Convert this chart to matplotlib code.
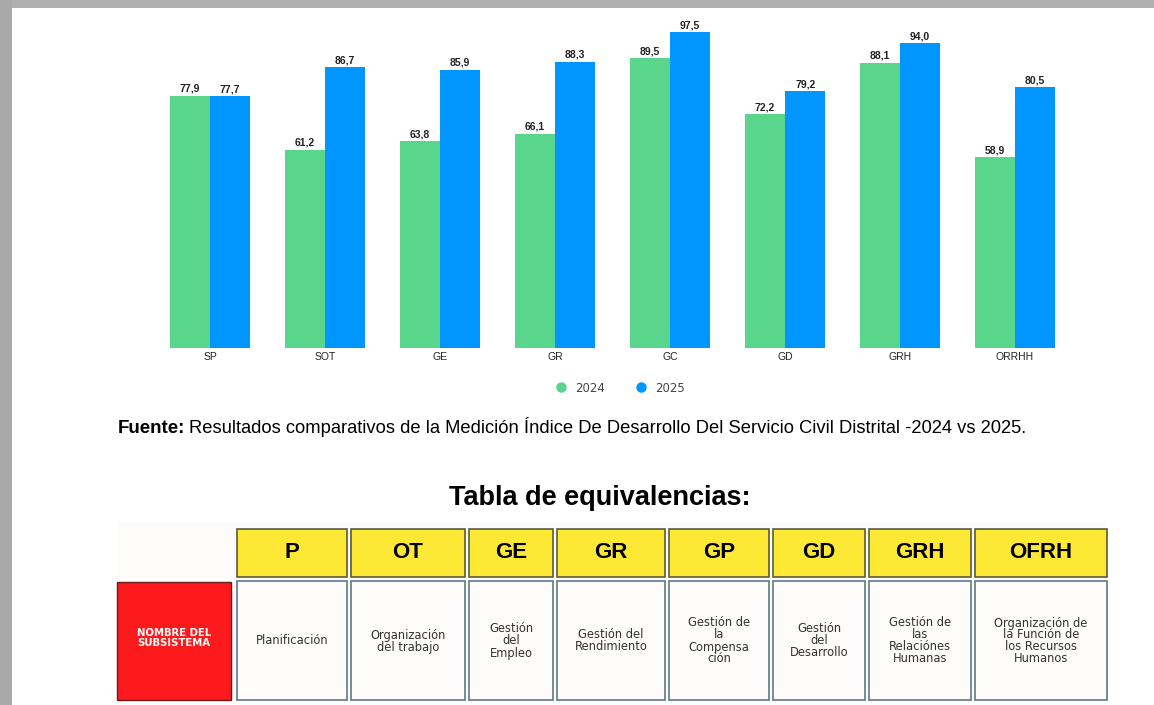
import numpy as np
import matplotlib.pyplot as plt
from matplotlib.patches import Rectangle
from matplotlib.lines import Line2D

plt.rcParams['font.family'] = ['Liberation Sans', 'DejaVu Sans']

categories = ['SP', 'SOT', 'GE', 'GR', 'GC', 'GD', 'GRH', 'ORRHH']
values_2024 = [77.9, 61.2, 63.8, 66.1, 89.5, 72.2, 88.1, 58.9]
values_2025 = [77.7, 86.7, 85.9, 88.3, 97.5, 79.2, 94.0, 80.5]

codes = ['P', 'OT', 'GE', 'GR', 'GP', 'GD', 'GRH', 'OFRH']
names = ['Planificación', 'Organización\ndel trabajo', 'Gestión\ndel\nEmpleo',
         'Gestión del\nRendimiento', 'Gestión de\nla\nCompensa\nción',
         'Gestión\ndel\nDesarrollo', 'Gestión de\nlas\nRelaciónes\nHumanas',
         'Organización de\nla Función de\nlos Recursos\nHumanos']
row_label = 'NOMBRE DEL\nSUBSISTEMA'

source_bold = 'Fuente:'
source_text = 'Resultados comparativos de la Medición Índice De Desarrollo Del Servicio Civil Distrital -2024 vs 2025.'
table_title = 'Tabla de equivalencias:'

green = '#5ad68c'
blue = '#0095ff'

W, H = 1154, 705
fig = plt.figure(figsize=(W / 100, H / 100), dpi=100)

# background layer in pixel coordinates
bg = fig.add_axes([0, 0, 1, 1])
bg.set_xlim(0, W)
bg.set_ylim(H, 0)
bg.axis('off')
bg.add_patch(Rectangle((0, 0), W, 8, color='#b0b0b0', lw=0))
bg.add_patch(Rectangle((0, 0), 12, H, color='#a9a9a9', lw=0))

# bar chart
ax = fig.add_axes([152.5 / W, (H - 348) / H, 920 / W, 324 / H])
x = np.arange(len(categories))
bw = 0.35
b1 = ax.bar(x - bw / 2, values_2024, bw, color=green, label='2024')
b2 = ax.bar(x + bw / 2, values_2025, bw, color=blue, label='2025')
for bars in (b1, b2):
    for r in bars:
        ax.text(r.get_x() + r.get_width() / 2, r.get_height() + 0.6,
                f'{r.get_height():.1f}'.replace('.', ','),
                ha='center', va='bottom', fontsize=7.5, fontweight='bold', color='#222222')
ax.set_xlim(-0.5, len(categories) - 0.5)
ax.set_ylim(0, 100)
ax.set_xticks(x)
ax.set_xticklabels(categories, fontsize=7.5, color='#222222')
ax.tick_params(axis='x', length=0, pad=3)
ax.set_yticks([])
for s in ax.spines.values():
    s.set_visible(False)

handles = [Line2D([], [], marker='o', ls='', color=green, markersize=6.5),
           Line2D([], [], marker='o', ls='', color=blue, markersize=6.5)]
fig.legend(handles, ['2024', '2025'], loc='center', bbox_to_anchor=(617 / W, 1 - 388 / H),
           ncol=2, frameon=False, handletextpad=0.2, columnspacing=2.0,
           labelcolor='#444444', prop={'family': 'DejaVu Sans', 'size': 8.5})

# source line
t = bg.text(118, 433, source_bold, fontsize=13.5, fontweight='bold', va='baseline', ha='left')
fig.canvas.draw()
x_end = bg.transData.inverted().transform((t.get_window_extent().x1, 0))[0]
bg.text(x_end + 4, 433, source_text, fontsize=13.2, va='baseline', ha='left')

bg.text(600, 498, table_title, fontsize=19.5, fontweight='bold', ha='center', va='center')

# table
col_left = [237, 351, 469, 557, 669, 773, 869, 975]
col_right = [347, 465, 553, 665, 769, 865, 971, 1107]
bg.add_patch(Rectangle((117, 522), 1107 - 117, 178, color='#fdfcfb', lw=0))
for i in range(len(codes)):
    l, r = col_left[i], col_right[i]
    bg.add_patch(Rectangle((l, 529), r - l, 48, facecolor='#fde835', edgecolor='#5a5a3a', lw=1.2))
    bg.text((l + r) / 2, 552, codes[i], fontsize=16, fontweight='bold', ha='center', va='center')
    bg.add_patch(Rectangle((l, 581), r - l, 119, facecolor='#fdfcfb', edgecolor='#5d7888', lw=1.2))
    bg.text((l + r) / 2, 641, names[i], ha='center', va='center', color='#333333',
            linespacing=0.9, family='DejaVu Sans', fontsize=8.3)
bg.add_patch(Rectangle((117, 582), 114, 118, facecolor='#fd1a1c', edgecolor='#6a1a1a', lw=1))
bg.text(174, 638, row_label, fontweight='bold', color='white', ha='center', va='center',
        linespacing=1.0, family='DejaVu Sans', fontsize=7.3)

plt.savefig('out.png', dpi=100)
